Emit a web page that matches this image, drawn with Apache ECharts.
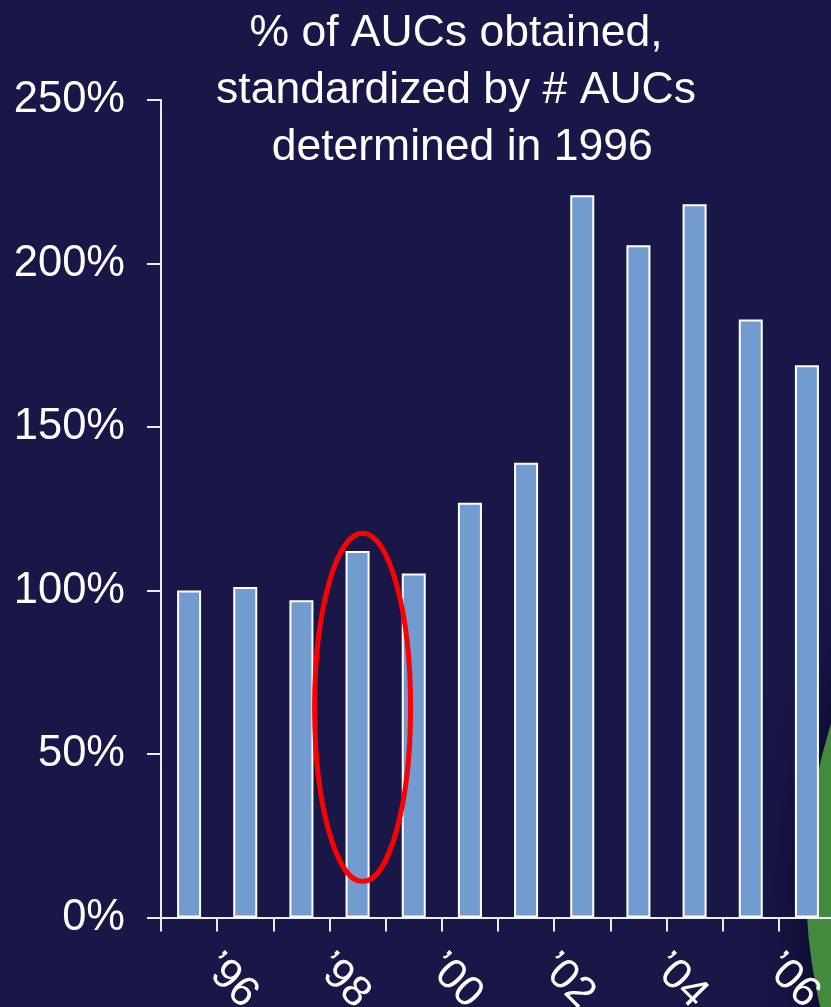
<!DOCTYPE html>
<html>
<head>
<meta charset="utf-8">
<script src="https://cdn.jsdelivr.net/npm/echarts@6/dist/echarts.min.js"></script>
<style>
  html, body { margin: 0; padding: 0; background: #191748; }
  #chart { width: 831px; height: 1007px; }
</style>
</head>
<body>
<div id="chart"></div>
<script>
// Years on the category axis
const years = ["’96", "’97", "’98", "’99", "’00", "’01", "’02", "’03", "’04", "’05", "’06", "’07"];
// % of AUCs obtained, relative to 1996
const aucPercent = [100, 101.1, 97.0, 112.1, 105.2, 126.8, 139.1, 220.9, 205.6, 218.1, 182.9, 168.9];
// Y-axis range and step (percent)
const yTicks = [0, 50, 100, 150, 200, 250];
// Highlighted year and the value span the ring encloses
const highlightYear = "’99";
const highlightSpan = [11, 117.5];

const FONT = "'Liberation Sans', Arial, sans-serif";
const AXIS_COLOR = '#ececf2';

const chart = echarts.init(document.getElementById('chart'), null, { renderer: 'canvas' });

chart.setOption({
  backgroundColor: '#191748',
  animation: false,
  title: {
    text: '% of AUCs obtained,\nstandardized by # AUCs\n determined in 1996',
    left: 456,
    top: 5,
    padding: 0,
    textAlign: 'center',
    textStyle: {
      color: '#ffffff',
      fontFamily: FONT,
      fontSize: 44.5,
      fontWeight: 'normal',
      lineHeight: 57
    }
  },
  grid: {
    left: 161, top: 100, right: -4, bottom: 89.5,
    containLabel: false,
    outerBoundsMode: 'none'
  },
  xAxis: {
    type: 'category',
    data: years,
    boundaryGap: true,
    axisLine: { lineStyle: { color: AXIS_COLOR, width: 2 } },
    axisTick: { show: true, interval: 0, length: 14, lineStyle: { color: AXIS_COLOR, width: 2 } },
    axisLabel: {
      interval: 1,
      rotate: -45,
      margin: 22,
      padding: [0, 0, 0, 30],
      color: '#ffffff',
      fontFamily: FONT,
      fontSize: 43,
      hideOverlap: false
    },
    splitLine: { show: false }
  },
  yAxis: {
    type: 'value',
    min: yTicks[0],
    max: yTicks[yTicks.length - 1],
    interval: yTicks[1] - yTicks[0],
    axisLine: { show: true, lineStyle: { color: AXIS_COLOR, width: 2 } },
    axisTick: { show: true, length: 14, lineStyle: { color: AXIS_COLOR, width: 2 } },
    axisLabel: {
      formatter: '{value}%',
      margin: 36,
      color: '#ffffff',
      fontFamily: FONT,
      fontSize: 43.5
    },
    splitLine: { show: false }
  },
  series: [{
    type: 'bar',
    data: aucPercent,
    barWidth: 24,
    itemStyle: {
      color: '#729bd0',
      borderColor: '#ffffff',
      borderWidth: 2
    },
    z: 3
  }]
});

// Decorative green disc at the lower right and the red ring around one bar
function drawOverlay() {
  const top = chart.convertToPixel({ gridIndex: 0 }, [highlightYear, highlightSpan[1]]);
  const bottom = chart.convertToPixel({ gridIndex: 0 }, [highlightYear, highlightSpan[0]]);
  const cx = top[0] + 5;
  const cy = (top[1] + bottom[1]) / 2;
  const ry = (bottom[1] - top[1]) / 2;

  chart.setOption({
    graphic: [
      {
        type: 'circle',
        z: -10,
        silent: true,
        shape: { cx: 1338, cy: 885, r: 532 },
        style: {
          fill: '#438a3e',
          shadowBlur: 60,
          shadowColor: 'rgba(4, 3, 30, 0.95)'
        }
      },
      {
        type: 'ellipse',
        z: 100,
        silent: true,
        shape: { cx: cx, cy: cy, rx: 48, ry: ry },
        style: { fill: 'none', stroke: '#ff0000', lineWidth: 5 }
      }
    ]
  });
}
drawOverlay();
</script>
</body>
</html>
